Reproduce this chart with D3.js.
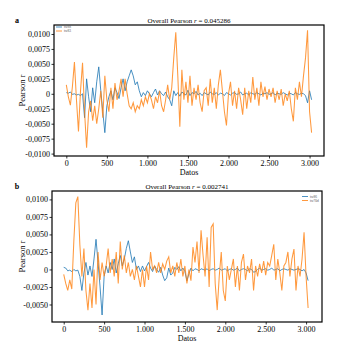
<!DOCTYPE html>
<html><head><meta charset="utf-8">
<script src="https://cdn.jsdelivr.net/npm/d3@7"></script>
<style>body{margin:0;background:#fff}svg{display:block}text{font-family:"Liberation Serif","Times New Roman",serif}</style>
</head><body>
<svg id="c" width="354" height="346"></svg>
<script>
const step = 25;
const titleA = "Overall Pearson r = 0.045286";
const titleB = "Overall Pearson r = 0.002741";
const legendA = ["tw88", "tw83"];
const legendB = ["tw86", "tw70d"];
const xTicks = [0, 500, 1000, 1500, 2000, 2500, 3000];
const yTicksA = [-0.01, -0.0075, -0.005, -0.0025, 0, 0.0025, 0.005, 0.0075, 0.01];
const yTicksB = [-0.005, -0.0025, 0, 0.0025, 0.005, 0.0075, 0.01];

const blueA = [
0.0002,0.0001,0.0003,-0.0001,0.0000,-0.0002,-0.0001,-0.0003,0.0000,-0.0040,
0.0025,-0.0005,-0.0030,0.0010,-0.0015,0.0020,0.0045,0.0005,-0.0030,-0.0065,
-0.0020,-0.0005,0.0005,-0.0010,0.0010,0.0002,-0.0008,0.0010,0.0025,0.0005,
0.0020,0.0030,0.0040,0.0030,0.0015,0.0020,0.0005,-0.0005,0.0002,-0.0003,
0.0005,0.0000,-0.0005,0.0002,0.0008,-0.0002,0.0005,0.0000,-0.0003,0.0003,
-0.0005,-0.0010,-0.0020,0.0005,-0.0003,0.0002,-0.0004,0.0003,0.0000,-0.0002,
0.0006,-0.0003,0.0002,0.0000,0.0004,-0.0002,0.0001,-0.0003,0.0002,0.0000,
-0.0002,0.0003,0.0000,-0.0001,0.0002,-0.0002,0.0001,0.0000,-0.0003,0.0002,
0.0000,-0.0002,0.0001,0.0002,-0.0001,0.0000,0.0003,-0.0002,0.0000,0.0001,
-0.0002,0.0002,0.0000,-0.0001,0.0002,0.0000,-0.0002,0.0001,0.0000,0.0002,
-0.0001,0.0000,0.0002,-0.0002,0.0001,0.0000,-0.0001,0.0002,0.0000,-0.0002,
0.0001,0.0000,-0.0002,0.0002,0.0000,-0.0001,0.0001,0.0000,-0.0003,-0.0015,
0.0005,-0.0010];
const orangeA = [
0.0015,-0.0005,-0.0019,0.0012,0.0053,-0.0010,-0.0063,0.0005,0.0052,-0.0030,
-0.0090,-0.0030,-0.0012,-0.0045,-0.0020,-0.0050,-0.0025,0.0005,-0.0040,0.0030,
-0.0010,-0.0030,0.0010,-0.0025,0.0018,-0.0010,0.0005,0.0025,-0.0005,0.0025,
0.0000,-0.0020,-0.0025,-0.0015,-0.0030,-0.0020,-0.0025,-0.0010,-0.0020,-0.0005,
-0.0015,0.0000,-0.0010,-0.0025,-0.0005,-0.0015,0.0005,-0.0020,-0.0030,-0.0010,
0.0015,-0.0010,0.0010,0.0060,0.0103,0.0030,-0.0055,0.0040,-0.0010,0.0020,
-0.0015,0.0030,-0.0020,0.0010,-0.0010,0.0015,-0.0015,-0.0030,0.0005,0.0010,
-0.0020,0.0025,-0.0015,0.0010,-0.0025,0.0015,0.0040,0.0005,-0.0030,-0.0053,
0.0000,0.0020,-0.0020,0.0005,-0.0025,0.0010,-0.0010,-0.0035,0.0010,-0.0025,
0.0005,-0.0015,0.0028,-0.0010,0.0010,-0.0020,0.0020,-0.0005,0.0012,-0.0010,
0.0008,-0.0005,0.0010,-0.0015,0.0005,-0.0010,0.0008,-0.0020,0.0000,-0.0012,
0.0005,-0.0025,-0.0046,0.0010,-0.0010,0.0020,-0.0005,0.0030,0.0060,0.0106,
-0.0030,-0.0065];
const blueB = [
0.0003,0.0002,-0.0002,-0.0001,-0.0003,0.0000,-0.0002,-0.0001,-0.0010,-0.0030,
-0.0005,0.0010,-0.0008,0.0005,-0.0010,0.0015,0.0043,0.0010,-0.0025,-0.0065,
-0.0010,0.0005,-0.0005,0.0010,0.0000,0.0015,-0.0005,0.0008,0.0020,0.0005,
0.0015,0.0030,0.0041,0.0025,0.0010,0.0018,0.0000,0.0005,-0.0003,0.0005,
-0.0002,0.0004,0.0010,0.0002,-0.0003,0.0005,0.0000,-0.0004,0.0003,-0.0008,
-0.0016,-0.0012,0.0002,-0.0008,-0.0005,0.0003,0.0000,0.0004,-0.0002,0.0002,
-0.0003,-0.0016,-0.0006,0.0002,-0.0002,0.0001,0.0000,-0.0002,0.0001,0.0000,
-0.0001,0.0001,-0.0002,0.0000,0.0001,-0.0001,0.0000,0.0002,-0.0001,0.0000,
0.0001,-0.0002,0.0000,0.0001,-0.0001,0.0000,0.0002,-0.0002,0.0000,0.0001,
0.0000,-0.0002,0.0001,0.0000,-0.0004,-0.0003,0.0000,0.0002,-0.0001,0.0000,
0.0001,-0.0001,0.0000,0.0002,-0.0001,0.0000,0.0001,-0.0002,0.0000,0.0001,
0.0000,-0.0001,0.0001,0.0000,-0.0001,0.0000,0.0001,0.0000,-0.0002,0.0000,
-0.0005,-0.0016];
const orangeB = [
-0.0007,-0.0020,-0.0030,-0.0015,-0.0028,0.0040,0.0095,0.0104,0.0035,-0.0010,
0.0030,-0.0030,-0.0058,-0.0020,-0.0055,0.0000,-0.0050,0.0025,-0.0015,0.0010,
-0.0010,0.0005,0.0030,-0.0005,0.0015,-0.0010,0.0025,-0.0020,0.0040,0.0000,
0.0020,-0.0005,0.0010,-0.0010,0.0000,-0.0015,0.0005,-0.0010,-0.0025,0.0000,
-0.0025,0.0005,-0.0015,0.0025,0.0000,0.0005,-0.0005,0.0010,-0.0005,0.0008,
0.0000,0.0012,0.0018,-0.0005,0.0005,-0.0010,0.0010,-0.0005,0.0015,-0.0010,
0.0005,-0.0020,0.0000,-0.0016,0.0032,0.0010,0.0040,-0.0005,0.0056,0.0020,
-0.0010,0.0046,-0.0025,0.0060,0.0065,-0.0020,-0.0058,-0.0010,0.0025,-0.0030,
-0.0045,0.0005,-0.0015,0.0000,0.0015,-0.0025,0.0005,-0.0030,0.0010,0.0022,
-0.0015,0.0005,-0.0005,0.0015,-0.0030,0.0005,-0.0010,0.0008,-0.0005,0.0012,
-0.0008,0.0010,0.0005,0.0020,0.0036,-0.0015,0.0015,-0.0005,-0.0030,0.0005,
0.0010,0.0025,-0.0010,0.0015,0.0029,-0.0030,0.0005,-0.0010,0.0015,0.0053,
-0.0010,-0.0055];

const BLUE = "#1f77b4", ORANGE = "#ff7f0e";
const svg = d3.select("#c");

function fmtY(v){
  if (Math.abs(v) < 1e-12) return "0";
  return (v < 0 ? "-" : "") + Math.abs(v).toFixed(4).replace(".", ",");
}
function fmtX(v){ return d3.format(",")(v).replace(/,/g, "."); }

function panel(cfg){
  const {left, top, right, bottom, xDom, yDom, yTicks, blue, orange, title, letter, legend, legendPos} = cfg;
  const x = d3.scaleLinear().domain(xDom).range([left, right]);
  const y = d3.scaleLinear().domain(yDom).range([bottom, top]);
  const g = svg.append("g");
  const line = d3.line().x((d,i)=>x(i*step)).y(d=>y(d));
  const clipId = "clip" + letter;
  g.append("clipPath").attr("id", clipId).append("rect")
    .attr("x", left).attr("y", top).attr("width", right-left).attr("height", bottom-top);
  const pg = g.append("g").attr("clip-path", `url(#${clipId})`);
  pg.append("path").datum(blue).attr("d", line).attr("fill","none")
    .attr("stroke", BLUE).attr("stroke-width", 0.9).attr("stroke-opacity", 0.9);
  pg.append("path").datum(orange).attr("d", line).attr("fill","none")
    .attr("stroke", ORANGE).attr("stroke-width", 1.05).attr("stroke-opacity", 0.8);

  const xa = g.append("g").attr("transform", `translate(0,${bottom})`)
    .call(d3.axisBottom(x).tickValues(xTicks).tickFormat(fmtX).tickSize(2.5).tickPadding(1.5));
  const ya = g.append("g").attr("transform", `translate(${left},0)`)
    .call(d3.axisLeft(y).tickValues(yTicks).tickFormat(fmtY).tickSize(2.5).tickPadding(1.5));
  [xa, ya].forEach(a => {
    a.select(".domain").remove();
    a.selectAll("line").attr("stroke", "#000").attr("stroke-width", 0.8);
    a.selectAll("text").attr("font-size", 8).attr("fill", "#000")
      .style("font-family", '"Liberation Serif", serif');
  });

  g.append("rect").attr("x", left).attr("y", top).attr("width", right-left).attr("height", bottom-top)
    .attr("fill", "none").attr("stroke", "#000").attr("stroke-width", 1.2);

  const tt = g.append("text").attr("x", (left+right)/2).attr("y", top-2.5).attr("text-anchor","middle")
    .attr("font-size", 7);
  tt.append("tspan").text(title.split(" r ")[0] + " ");
  tt.append("tspan").attr("font-style","italic").text("r");
  tt.append("tspan").text(" " + title.split(" r ")[1]);

  g.append("text").attr("x", 17).attr("y", top-2.5).attr("font-size", 8).attr("font-weight","bold")
    .attr("text-anchor","middle").text(letter);
  g.append("text").attr("x", (left+right)/2).attr("y", bottom+18.5).attr("text-anchor","middle")
    .attr("font-size", 8).text("Datos");
  g.append("text").attr("transform", `translate(24.5,${(top+bottom)/2}) rotate(-90)`)
    .attr("text-anchor","middle").attr("font-size", 8.5).text("Pearson r");

  const lg = g.append("g").attr("transform", `translate(${legendPos[0]},${legendPos[1]})`);
  [BLUE, ORANGE].forEach((c, i) => {
    lg.append("line").attr("x1", 0).attr("x2", 6).attr("y1", i*4).attr("y2", i*4)
      .attr("stroke", c).attr("stroke-width", 0.8);
    lg.append("text").attr("x", 8).attr("y", i*4 + 1.2).attr("font-size", 3.5).attr("fill", "#555")
      .text(legend[i]);
  });
}

panel({left:54, top:25, right:324, bottom:156, xDom:[-152, 3178], yDom:[-0.0104, 0.0115],
  yTicks:yTicksA, blue:blueA, orange:orangeA, title:titleA, letter:"a", legend:legendA, legendPos:[56, 27]});
panel({left:52, top:191, right:322, bottom:322, xDom:[-145, 3197], yDom:[-0.0075, 0.0112],
  yTicks:yTicksB, blue:blueB, orange:orangeB, title:titleB, letter:"b", legend:legendB, legendPos:[302, 196.5]});
</script>
</body></html>
